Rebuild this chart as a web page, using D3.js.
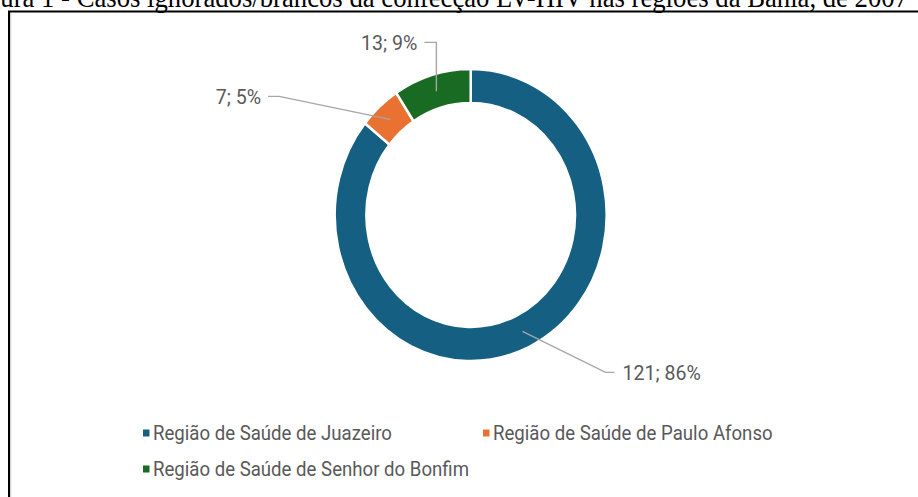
<!DOCTYPE html>
<html>
<head>
<meta charset="utf-8">
<script src="https://cdn.jsdelivr.net/npm/d3@7"></script>
<style>
    body { margin: 0; background: #fff; }
    svg { display: block; }
    .label, .legend-text { font-family: Roboto, "Noto Sans", sans-serif; fill: #595959; }
    .title { font-family: "Liberation Serif", "Times New Roman", serif; fill: #000; }
</style>
</head>
<body>
<div id="chart"></div>
<script>
// Data
const regions = ["Região de Saúde de Juazeiro", "Região de Saúde de Paulo Afonso", "Região de Saúde de Senhor do Bonfim"];
const cases = [121, 7, 13];
const colors = ["#156082", "#E97132", "#196B24"];
const titleText = "Figura 1 - Casos ignorados/brancos da confecção LV-HIV nas regiões da Bahia, de 2007";

// Label leader layout (elbow offset from slice centroid, then short horizontal tail)
const labelLayout = [
    {dx: 83, dy: 41, tail: 9},
    {dx: -111, dy: -23, tail: -11},
    {dx: 0, dy: -49, tail: -12}
];

const width = 918, height = 497;
const cx = 470.7, cy = 215;
const outerR = 146, innerR = 112;
const sx = 0.9315; // picture is squeezed horizontally

const svg = d3.select("#chart").append("svg")
    .attr("width", width)
    .attr("height", height);

// Title, clipped by the top and left of the page ("ura 1 - ..." starts at the left edge)
let title = svg.append("text")
    .attr("class", "title")
    .attr("text-anchor", "end")
    .attr("transform", `translate(908, 7) scale(${sx}, 1)`)
    .style("font-size", "100px")
    .text(titleText);
let probe = svg.append("text")
    .attr("class", "title")
    .style("font-size", "100px")
    .text("Fig");
let fullW = title.node().getComputedTextLength();
let prefW = probe.node().getComputedTextLength();
probe.remove();
title.style("font-size", (100 * (908 / sx) / (fullW - prefW)) + "px");

// Frame
svg.append("line")
    .attr("x1", 10.5).attr("x2", 10.5).attr("y1", 12).attr("y2", height)
    .attr("stroke", "#d4d4d4").attr("stroke-width", 1.5);
svg.append("path")
    .attr("d", `M9,${height} V11.5 H${width}`)
    .attr("fill", "none")
    .attr("stroke", "#000")
    .attr("stroke-width", 2);

const total = d3.sum(cases);
const pie = d3.pie().sort(null).value(d => d.value);
const arc = d3.arc().innerRadius(innerR).outerRadius(outerR);
const midArc = d3.arc().innerRadius((innerR + outerR) / 2).outerRadius((innerR + outerR) / 2);

const slices = pie(cases.map((v, i) => ({value: v, name: regions[i], color: colors[i]})));

const donut = svg.append("g")
    .attr("transform", `translate(${cx}, ${cy}) scale(${sx}, 1)`);

donut.selectAll(".slice")
    .data(slices)
    .enter()
    .append("path")
    .attr("class", "slice")
    .attr("d", arc)
    .attr("fill", d => d.data.color)
    .attr("stroke", "#fff")
    .attr("stroke-width", 2.5)
    .attr("vector-effect", "non-scaling-stroke");

// Leader lines and data labels
slices.forEach((d, i) => {
    let c = midArc.centroid(d);
    let p0 = [cx + c[0] * sx, cy + c[1]];
    let lay = labelLayout[i];
    let p1 = [p0[0] + lay.dx, p0[1] + lay.dy];
    let p2 = [p1[0] + lay.tail, p1[1]];

    svg.append("polyline")
        .attr("points", [p0, p1, p2].map(p => p.join(",")).join(" "))
        .attr("fill", "none")
        .attr("stroke", "#A6A6A6")
        .attr("stroke-width", 1.4);

    let pct = Math.round(d.data.value / total * 100);
    svg.append("text")
        .attr("class", "label")
        .attr("text-anchor", lay.tail > 0 ? "start" : "end")
        .attr("transform", `translate(${p2[0] + (lay.tail > 0 ? 8 : -7)}, ${p2[1]}) scale(${sx}, 1)`)
        .attr("dy", "0.35em")
        .style("font-size", "21px")
        .text(`${d.data.value}; ${pct}%`);
});

// Legend
const legendCols = [143, 483], legendRows = [433, 469];
const legend = svg.selectAll(".legend-item")
    .data(slices)
    .enter()
    .append("g")
    .attr("class", "legend-item")
    .attr("transform", (d, i) => `translate(${legendCols[i % 2]}, ${legendRows[Math.floor(i / 2)]})`);

legend.append("rect")
    .attr("x", 0).attr("y", -3.5)
    .attr("width", 6.5).attr("height", 7)
    .attr("fill", d => d.data.color);

legend.append("text")
    .attr("class", "legend-text")
    .attr("transform", `translate(10, 0) scale(${sx}, 1)`)
    .attr("dy", "0.35em")
    .style("font-size", "20px")
    .text(d => d.data.name);
</script>
</body>
</html>
